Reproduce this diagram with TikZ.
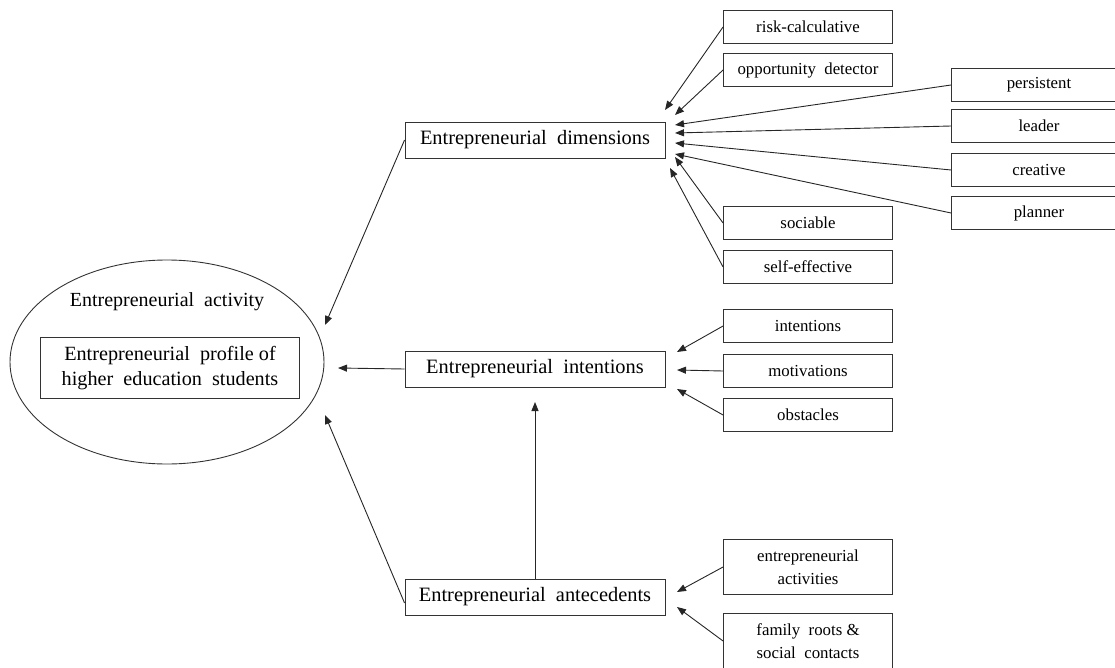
\documentclass[tikz,border=0pt]{standalone}
\usepackage{fontspec}
\setmainfont{Liberation Serif}
\usetikzlibrary{arrows.meta,shapes.geometric}
\tikzset{
  mainbox/.style={draw=black!80, line width=0.9pt, minimum width=260pt, minimum height=36pt, inner sep=0pt, font=\fontsize{20.4}{23}\selectfont},
  itembox/.style={draw=black!80, line width=0.9pt, minimum width=169pt, minimum height=33pt, inner sep=0pt, align=center, font=\fontsize{16.8}{19}\selectfont},
  link/.style={-{Triangle[length=9pt,width=7pt]}, line width=0.9pt, black!85}
}
\begin{document}
\begin{tikzpicture}[x=1pt,y=-1pt]
	\useasboundingbox (0,0) rectangle (1115,668);
	% central activity
	\node[ellipse, draw=black!80, line width=0.9pt, minimum width=314pt, minimum height=204pt] (act) at (167,362) {};
	\node[font=\fontsize{20}{23}\selectfont] (acttitle) at (167,302) {Entrepreneurial\ \ activity};
	\node[draw=black!80, line width=0.9pt, minimum width=259pt, minimum height=61pt, inner sep=0pt, align=center, font=\fontsize{20.2}{25}\selectfont] (profile) at (170,368) {Entrepreneurial\ \ profile of\\higher\ \ education\ \ students};
	% main blocks
	\node[mainbox] (dim) at (535,140) {Entrepreneurial\ \ dimensions};
	\node[mainbox] (int) at (535,369) {Entrepreneurial\ \ intentions};
	\node[mainbox] (ant) at (535,597) {Entrepreneurial\ \ antecedents};
	% dimensions
	\node[itembox] (risk) at (808,27) {risk-calculative};
	\node[itembox] (opp) at (808,70) {opportunity\ \ detector};
	\node[itembox, minimum width=175pt] (pers) at (1039,85) {persistent};
	\node[itembox, minimum width=175pt] (lead) at (1039,126) {leader};
	\node[itembox, minimum width=175pt] (crea) at (1039,170) {creative};
	\node[itembox, minimum width=175pt] (plan) at (1039,213) {planner};
	\node[itembox] (soc) at (808,223) {sociable};
	\node[itembox] (self) at (808,267) {self-effective};
	% intentions
	\node[itembox] (inten) at (808,326) {intentions};
	\node[itembox] (motiv) at (808,371) {motivations};
	\node[itembox] (obst) at (808,415) {obstacles};
	% antecedents
	\node[itembox, minimum height=55pt, font=\fontsize{16.8}{22.5}\selectfont] (entact) at (808,567) {entrepreneurial\\activities};
	\node[itembox, minimum height=55pt, font=\fontsize{16.8}{22.5}\selectfont] (family) at (808,641) {family\ \ roots \&\\social\ \ contacts};
	% arrow ends
	\coordinate (dA) at (665,110);
	\coordinate (dB) at (675,115);
	\coordinate (dC) at (675,125);
	\coordinate (dD) at (675,133);
	\coordinate (dE) at (675,143);
	\coordinate (dF) at (675,154);
	\coordinate (dG) at (675,157);
	\coordinate (dH) at (670,168);
	\coordinate (iA) at (677,352);
	\coordinate (iB) at (677,370);
	\coordinate (iC) at (677,389);
	\coordinate (aA) at (677,592);
	\coordinate (aB) at (677,607);
	\coordinate (eA) at (325,325);
	\coordinate (eB) at (338,368);
	\coordinate (eC) at (325,415);
	\coordinate (iD) at (535,402);
	% connectors
	\draw[link] (risk.west) -- (dA);
	\draw[link] (opp.west) -- (dB);
	\draw[link] (pers.west) -- (dC);
	\draw[link] (lead.west) -- (dD);
	\draw[link] (crea.west) -- (dE);
	\draw[link] (plan.west) -- (dF);
	\draw[link] (soc.west) -- (dG);
	\draw[link] (self.west) -- (dH);
	\draw[link] (inten.west) -- (iA);
	\draw[link] (motiv.west) -- (iB);
	\draw[link] (obst.west) -- (iC);
	\draw[link] (entact.west) -- (aA);
	\draw[link] (family.west) -- (aB);
	\draw[link] (dim.west) -- (eA);
	\draw[link] (int.west) -- (eB);
	\draw[link] ([yshift=-6pt]ant.west) -- (eC);
	\draw[link] (ant.north) -- (iD);
\end{tikzpicture}
\end{document}
